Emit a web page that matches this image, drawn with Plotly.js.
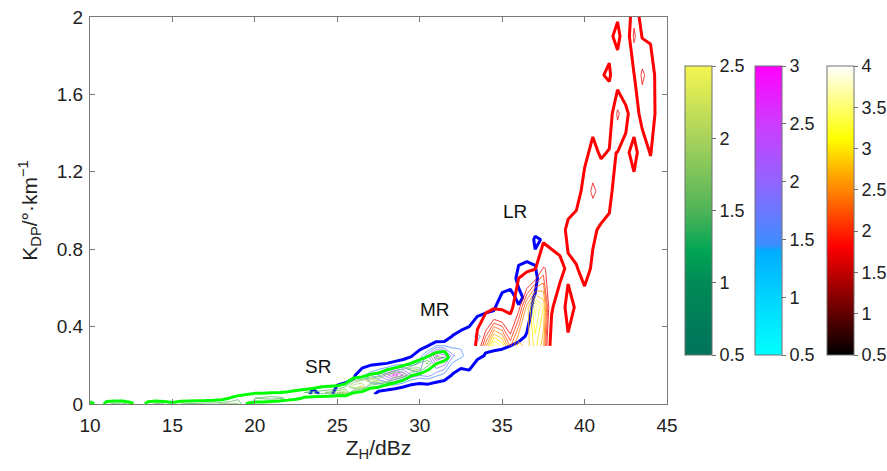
<!DOCTYPE html>
<html><head><meta charset="utf-8">
<script src="https://cdn.plot.ly/plotly-3.0.1.min.js"></script>
<style>html,body{margin:0;padding:0;background:#fff}#chart{width:887px;height:471px}</style>
</head><body><div id="chart"></div>
<script>
// ---------- SR (small raindrops) density grid ----------
const srX = [10,10.5,11,11.5,12,12.5,13,13.5,14,14.5,15,15.5,16,16.5,17,17.5,18,18.5,19,19.5,20,20.5,21,21.5,22,22.5,23,23.5,24,24.5,25,25.5,26,26.5,27,27.5,28,28.5,29,29.5,30,30.5,31,31.5,32,32.5];
const srY = [0,0.03,0.06,0.09,0.12,0.15,0.18,0.21,0.24,0.27,0.30];
const srZ = [
 [1.67,0.4,1.3,1.7,1.7,1.2,0.4,1.3,1.6,1.5,1.3,1.5,1.6,1.6,1.7,1.7,1.8,1.8,1.8,0.95,0.75,0.7,0.5,0.4,0.2,0,0,0,0,0,0,0,0,0,0,0,0,0,0,0,0,0,0,0,0,0],
 [0,0,0.6,0.3,0.3,0.4,0,0.5,0.4,0.3,0.2,0.4,0.4,0.5,0.5,0.6,0.7,1.05,1.4,1.5,1.5,1.6,1.7,1.6,1.4,1.2,0.9,0.8,0.7,0.6,0.3,0.2,0,0,0,0,0,0,0,0,0,0,0,0,0,0],
 [0,0,0,0,0,0,0,0,0,0,0,0,0,0,0,0,0,0.3,0.5,0.7,0.9,0.9,0.95,0.98,1.1,1.3,1.5,1.6,1.7,1.8,2.0,2.1,1.05,0.8,0.3,0.2,0,0,0,0,0,0,0,0,0,0],
 [0,0,0,0,0,0,0,0,0,0,0,0,0,0,0,0,0,0,0,0,0,0,0.2,0.3,0.3,0.4,0.5,0.7,0.95,1.05,1.1,1.5,2.2,2.3,1.3,1.1,0.6,0.4,0,0,0,0,0,0,0,0],
 [0,0,0,0,0,0,0,0,0,0,0,0,0,0,0,0,0,0,0,0,0,0,0,0,0,0,0,0,0.2,0.3,0.3,0.5,1.6,1.8,2.2,2.0,1.9,1.3,0.9,0.4,0,0,0,0,0,0],
 [0,0,0,0,0,0,0,0,0,0,0,0,0,0,0,0,0,0,0,0,0,0,0,0,0,0,0,0,0,0,0,0,0.4,0.6,1.1,1.3,1.8,2.0,1.9,1.1,0.8,0.4,0,0,0,0],
 [0,0,0,0,0,0,0,0,0,0,0,0,0,0,0,0,0,0,0,0,0,0,0,0,0,0,0,0,0,0,0,0,0,0,0.3,0.4,0.9,1.2,1.6,1.9,1.8,1.1,0.5,0,0,0],
 [0,0,0,0,0,0,0,0,0,0,0,0,0,0,0,0,0,0,0,0,0,0,0,0,0,0,0,0,0,0,0,0,0,0,0,0,0.2,0.3,0.6,1.05,1.6,1.8,1.05,0.6,0.2,0],
 [0,0,0,0,0,0,0,0,0,0,0,0,0,0,0,0,0,0,0,0,0,0,0,0,0,0,0,0,0,0,0,0,0,0,0,0,0,0,0,0.3,0.6,1.2,1.6,1.5,0.5,0],
 [0,0,0,0,0,0,0,0,0,0,0,0,0,0,0,0,0,0,0,0,0,0,0,0,0,0,0,0,0,0,0,0,0,0,0,0,0,0,0,0,0,0.3,0.9,1.05,0.4,0],
 [0,0,0,0,0,0,0,0,0,0,0,0,0,0,0,0,0,0,0,0,0,0,0,0,0,0,0,0,0,0,0,0,0,0,0,0,0,0,0,0,0,0,0.2,0.2,0,0]
];
// ---------- MR (medium raindrops) density grid ----------
const mrX = [23,23.5,24,24.5,25,25.5,26,26.5,27,27.5,28,28.5,29,29.5,30,30.5,31,31.5,32,32.5,33,33.5,34,34.5,35,35.5,36,36.5,37,37.5,38];
const mrY = [0.05,0.15,0.25,0.35,0.45,0.55,0.65,0.75,0.85,0.95];
const mrZ = [
 [0.1,1.43,0.89,0.7,1.45,1.45,1.45,1.45,1.2,0.8,0.6,0.22,0.08,0,0,0,0,0,0,0,0,0,0,0,0,0,0,0,0,0,0],
 [0,0,0,0,0.5,0.7,0.9,1.38,1.7,2.05,2.42,2.9,2.5,2.0,1.8,1.9,1.6,1.4,0.95,0.7,0.9,0.2,0.1,0,0,0,0,0,0,0,0],
 [0,0,0,0,0,0,0,0.3,0.3,0.14,0.05,0.19,0.625,0.95,1.34,2.0,2.8,2.6,1.8,1.6,1.3,1.2,0.95,0.9,0.85,0.7,0.5,0.3,0.2,0,0],
 [0,0,0,0,0,0,0,0,0,0,0,0,0,0,0.2,0,0.3,0.4,1.05,1.3,1.3,1.6,1.3,1.3,1.3,1.3,1.2,0.95,0.4,0,0],
 [0,0,0,0,0,0,0,0,0,0,0,0,0,0,0,0,0,0,0,0.3,0.7,1.02,1.15,1.25,1.35,1.35,1.35,1.2,0.7,0.2,0],
 [0,0,0,0,0,0,0,0,0,0,0,0,0,0,0,0,0,0,0,0,0,0.3,0.4,0.5,1.2,1.3,0.8,1.2,0.95,0.3,0],
 [0,0,0,0,0,0,0,0,0,0,0,0,0,0,0,0,0,0,0,0,0,0,0,0,0.4,0.6,1.2,1.3,1.2,0.5,0],
 [0,0,0,0,0,0,0,0,0,0,0,0,0,0,0,0,0,0,0,0,0,0,0,0,0,0.3,0.9,0.95,0.9,0.3,0],
 [0,0,0,0,0,0,0,0,0,0,0,0,0,0,0,0,0,0,0,0,0,0,0,0,0,0,0,0.5,1.1,0.95,0],
 [0,0,0,0,0,0,0,0,0,0,0,0,0,0,0,0,0,0,0,0,0,0,0,0,0,0,0,0,0.5,0.3,0]
];
// ---------- LR (large raindrops) density grid ----------
const lrX = [33,33.5,34,34.5,35,35.5,36,36.5,37,37.5,38,38.5,39,39.5,40,40.5,41,41.5,42,42.5,43,43.5,44,44.5];
const lrY = [0.3,0.5,0.7,0.9,1.1,1.3,1.5,1.7,1.9,2.1];
const lrZ = [
 [0,1.3,2.4,3.6,3.2,2.2,2.9,2.6,3.1,2.6,0.6,0,0.84,0,0,0,0,0,0,0,0,0,0,0],
 [0,0.6,0.75,0.9,0.85,0.75,1.6,2.6,3.6,3.0,1.1,0.5,1.3,0.9,0.7,0.3,0,0,0,0,0,0,0,0],
 [0,0,0,0,0,0.3,0.8,0.85,0.95,1.8,1.6,1.3,0.8,0.95,1.25,0.9,0.3,0.2,0,0,0,0,0,0],
 [0,0,0,0,0,0,0,0.2,0.4,0.6,0.4,0.4,1.3,1.4,1.4,1.1,0.9,0.85,0,0,0,0,0,0],
 [0,0,0,0,0,0,0,0,0,0,0,0,0.2,0.6,1.3,1.9,1.5,1.2,0.6,0.2,0.7,0.3,0.5,0],
 [0,0,0,0,0,0,0,0,0,0,0,0,0,0.3,0.8,1.2,0.9,1.05,0.99,0.8,1.3,0.55,1.05,0.3],
 [0,0,0,0,0,0,0,0,0,0,0,0,0,0,0,0.7,0.6,0.5,1.9,1.2,0.55,1.3,1.6,0.5],
 [0,0,0,0,0,0,0,0,0,0,0,0,0,0,0,0.3,0.95,1.1,0.45,0.3,0.97,1.9,1.4,0.6],
 [0,0,0,0,0,0,0,0,0,0,0,0,0,0,0,0,0.3,0.775,1.3,0.3,1.9,0.95,0.9,0.3],
 [0,0,0,0,0,0,0,0,0,0,0,0,0,0,0,0,0,0.3,0.5,0.5,1.2,0.5,0.2,0]
];
const xTicks = [10,15,20,25,30,35,40,45];
const yTicks = [0,0.4,0.8,1.2,1.6,2];
const srTicks = [0.5,1,1.5,2,2.5];
const mrTicks = [0.5,1,1.5,2,2.5,3];
const lrTicks = [0.5,1,1.5,2,2.5,3,3.5,4];
const labels = [{t:'SR',x:23.8,y:0.194},{t:'MR',x:30.95,y:0.486},{t:'LR',x:35.8,y:0.995}];

// ---------- colour maps ----------
const summerMap = [[0,'rgb(0,115,92)'],[0.25,'rgb(0,138,86)'],[0.36,'rgb(0,165,85)'],[0.5,'rgb(80,180,88)'],[0.75,'rgb(168,210,92)'],[1,'rgb(245,245,80)']];
const coolMap = [[0,'rgb(0,255,255)'],[0.2,'rgb(0,212,255)'],[0.36,'rgb(0,172,255)'],[0.38,'rgb(60,142,255)'],[0.6,'rgb(145,100,255)'],[0.8,'rgb(205,60,255)'],[1,'rgb(255,0,255)']];
const hotMap = [[0,'rgb(0,0,0)'],[0.375,'rgb(255,0,0)'],[0.75,'rgb(255,255,0)'],[1,'rgb(255,255,255)']];

function rgbArr(s){return s.match(/[\d.]+/g).map(Number);}
function colorAt(scale,t){
  t=Math.max(0,Math.min(1,t));
  for(let i=1;i<scale.length;i++){
    if(t<=scale[i][0]){
      const a=scale[i-1],b=scale[i];
      const f=(t-a[0])/((b[0]-a[0])||1);
      const ca=rgbArr(a[1]),cb=rgbArr(b[1]);
      return 'rgb('+ca.map((v,k)=>Math.round(v+(cb[k]-v)*f)).join(',')+')';
    }
  }
  return scale[scale.length-1][1];
}
function subScale(scale,vmin,vmax,start,end){
  const out=[];const n=20;
  for(let k=0;k<=n;k++){const v=start+(end-start)*k/n;out.push([k/n,colorAt(scale,(v-vmin)/(vmax-vmin))]);}
  return out;
}
const FONT='Arial, "Liberation Sans", Helvetica, sans-serif';
function thick(x,y,z,color){
  return {type:'contour',x:x,y:y,z:z,autocontour:false,
    contours:{coloring:'none',start:1,end:1,size:1},
    line:{color:color,width:3,smoothing:0},showscale:false,hoverinfo:'skip'};
}
function thin(x,y,z,map,vmin,vmax,start,end,size){
  return {type:'contour',x:x,y:y,z:z,autocontour:false,
    contours:{coloring:'lines',start:start,end:end,size:size},
    colorscale:subScale(map,vmin,vmax,start,end),
    line:{width:0.8,smoothing:0},showscale:false,hoverinfo:'skip'};
}
function cbar(x,y,z,map,vmin,vmax,xpos,ticks){
  return {type:'heatmap',x:x,y:y,z:z,zmin:vmin,zmax:vmax,zauto:false,colorscale:map,
    opacity:0,hoverinfo:'skip',showscale:true,
    colorbar:{x:xpos,xanchor:'left',xref:'paper',xpad:0,y:0.5,yanchor:'middle',ypad:0,
      len:289,lenmode:'pixels',thickness:27,thicknessmode:'pixels',
      outlinewidth:1,outlinecolor:'#707070',tickvals:ticks,ticks:'outside',ticklen:4,
      tickcolor:'#707070',tickfont:{family:FONT,size:18,color:'#222'}}};
}
const data = [
  cbar(srX,srY,srZ,summerMap,0.5,2.5,1.0312,srTicks),
  cbar(mrX,mrY,mrZ,coolMap,0.5,3,1.1525,mrTicks),
  cbar(lrX,lrY,lrZ,hotMap,0.5,4,1.2773,lrTicks),
  thin(mrX,mrY,mrZ,coolMap,0.5,3,1.5,3,0.25),
  thick(mrX,mrY,mrZ,'#0000ff'),
  thin(srX,srY,srZ,summerMap,0.5,2.5,1.5,2.5,0.25),
  thick(srX,srY,srZ,'#00ff00'),
  thick(lrX,lrY,lrZ,'#ff0000'),
  thin(lrX,lrY,lrZ,hotMap,0.5,4,1.75,3.75,0.25)
];
const axisCommon = {ticks:'inside',ticklen:5,tickcolor:'#7a7a7a',showline:true,linecolor:'#7a7a7a',
  linewidth:1,mirror:'ticks',showgrid:false,zeroline:false,tickfont:{family:FONT,size:19,color:'#222'}};
const layout = {
  width:887,height:471,margin:{l:90,r:220,t:17,b:67,autoexpand:false},
  paper_bgcolor:'#ffffff',plot_bgcolor:'#ffffff',showlegend:false,
  font:{family:FONT,size:18,color:'#222'},
  xaxis:Object.assign({},axisCommon,{range:[10,45],tickmode:'array',tickvals:xTicks,ticklabelstandoff:4,
    title:{text:'Z<sub>H</sub>/dBz',font:{family:FONT,size:21,color:'#222'},standoff:4}}),
  yaxis:Object.assign({},axisCommon,{range:[0,2],tickmode:'array',tickvals:yTicks,ticklabelstandoff:2,
    title:{text:'K<sub>DP</sub>/°·km<sup>−1</sup>',font:{family:FONT,size:21,color:'#222'},standoff:13}}),
  annotations:labels.map(l=>({x:l.x,y:l.y,xref:'x',yref:'y',text:l.t,showarrow:false,
    font:{family:FONT,size:19,color:'#111'}}))
};
Plotly.newPlot('chart',data,layout,{displayModeBar:false,staticPlot:true});
</script></body></html>
